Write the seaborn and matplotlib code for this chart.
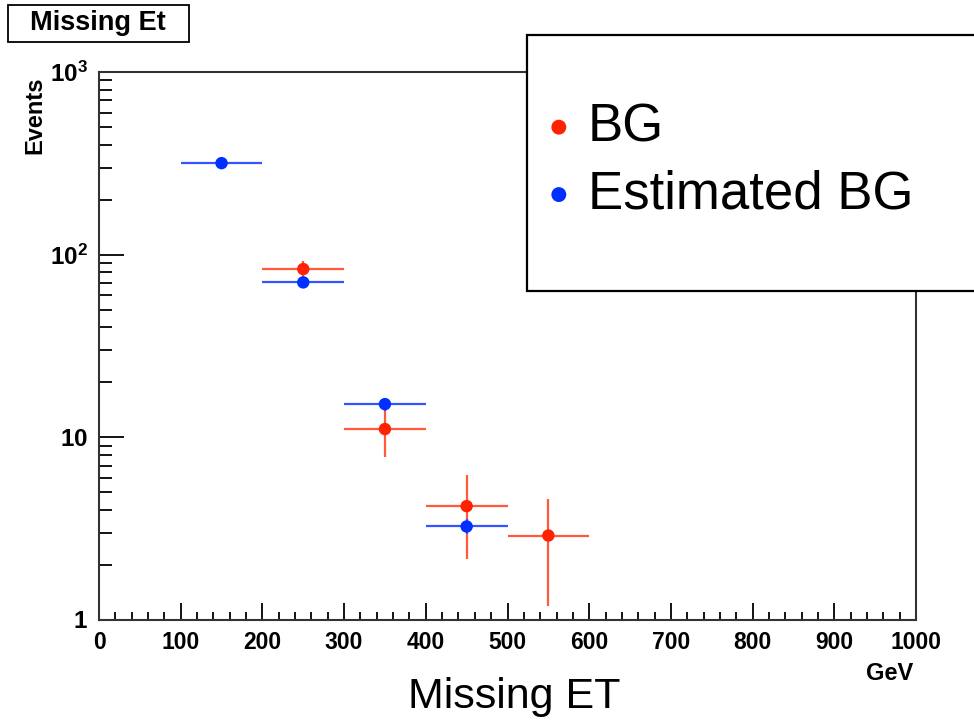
import numpy as np
import matplotlib
matplotlib.use("Agg")
import matplotlib.pyplot as plt
import seaborn as sns
from matplotlib.patches import Rectangle
from matplotlib.ticker import FixedLocator, LogLocator, MultipleLocator, NullFormatter

# clean white theme, Arial-like font
sns.set_theme(style="white")
plt.rcParams['font.family'] = ['Liberation Sans', 'DejaVu Sans']
plt.rcParams['mathtext.fontset'] = 'custom'
plt.rcParams['mathtext.bf'] = 'Liberation Sans:bold'
plt.rcParams['mathtext.rm'] = 'Liberation Sans'
plt.rcParams['text.color'] = 'black'
plt.rcParams['xtick.color'] = 'black'
plt.rcParams['ytick.color'] = 'black'

# data (bin centres in GeV, bin half width 50)
bin_centers_bg = [250, 350, 450, 550]
bg_events = [83.4, 11.1, 4.2, 2.9]
bg_errors = [9.1, 3.3, 2.05, 1.7]

bin_centers_est = [150, 250, 350, 450]
est_events = [317, 70.5, 15.2, 3.25]
est_errors = [4.0, 2.2, 1.3, 0.3]

bin_half_width = 50

red_pt, red_ln = '#ff2200', '#ff5a3c'
blue_pt, blue_ln = '#0030ff', '#3355ff'

fig = plt.figure(figsize=(9.74, 7.24), dpi=100)
ax = fig.add_axes([99/974, 1-620/724, 817/974, 548/724])

# error bars (bin width horizontally, stat error vertically)
ax.errorbar(bin_centers_bg, bg_events, xerr=bin_half_width, yerr=bg_errors,
            fmt='none', ecolor=red_ln, elinewidth=1.6, capsize=0, zorder=2)
ax.errorbar(bin_centers_est, est_events, xerr=bin_half_width, yerr=est_errors,
            fmt='none', ecolor=blue_ln, elinewidth=1.6, capsize=0, zorder=2)

sns.scatterplot(x=bin_centers_bg, y=bg_events, color=red_pt, s=80,
                edgecolor='none', label='BG', ax=ax, zorder=3, legend=False)
sns.scatterplot(x=bin_centers_est, y=est_events, color=blue_pt, s=80,
                edgecolor='none', label='Estimated BG', ax=ax, zorder=3, legend=False)

ax.set_yscale('log')
ax.set_xlim(0, 1000)
ax.set_ylim(1, 1000)

# ROOT-style inward ticks
ax.xaxis.set_major_locator(MultipleLocator(100))
ax.xaxis.set_minor_locator(MultipleLocator(20))
ax.yaxis.set_major_locator(FixedLocator([1, 10, 100, 1000]))
ax.yaxis.set_minor_locator(LogLocator(base=10, subs=np.arange(2, 10)))
ax.yaxis.set_minor_formatter(NullFormatter())
ax.set_yticklabels([r'$\mathbf{1}$', r'$\mathbf{10}$', r'$\mathbf{10^{2}}$', r'$\mathbf{10^{3}}$'])
ax.set_xticks(range(0, 1001, 100))
ax.set_xticklabels([str(v) for v in range(0, 1001, 100)], fontweight='bold')

ax.tick_params(axis='x', which='major', direction='in', length=12, width=1.3,
               labelsize=16.5, pad=8, bottom=True, top=False)
ax.tick_params(axis='x', which='minor', direction='in', length=6, width=1.3,
               bottom=True, top=False)
ax.tick_params(axis='y', which='major', direction='in', length=18, width=1.3,
               labelsize=17.5, pad=8, left=True, right=False)
ax.tick_params(axis='y', which='minor', direction='in', length=9, width=1.3,
               left=True, right=False)
for sp in ax.spines.values():
    sp.set_visible(True)
    sp.set_color('#333333')
    sp.set_linewidth(1.5)

ax.set_xlabel('')
ax.set_ylabel('')

# axis titles
fig.text(35/974, 1-115/724, 'Events', rotation=90, fontsize=17, fontweight='bold',
         ha='center', va='center')
fig.text(890/974, 1-673/724, 'GeV', fontsize=17, fontweight='bold',
         ha='center', va='center')
fig.text(514/974, 1-697/724, 'Missing ET', fontsize=31, ha='center', va='center')

# histogram title box
title_box = Rectangle((8/974, 1-42/724), 181/974, 37/724, transform=fig.transFigure,
                      facecolor='white', edgecolor='black', linewidth=1.3, zorder=5)
fig.patches.append(title_box)
fig.text(98/974, 1-23/724, 'Missing Et', fontsize=19.5, fontweight='bold',
         ha='center', va='center', zorder=6)

# legend box running off the right edge
box = Rectangle((527/974, 1-291/724), 460/974, 256/724, transform=fig.transFigure,
                facecolor='white', edgecolor='black', linewidth=1.6, zorder=5)
fig.patches.append(box)
handles, labels = ax.get_legend_handles_labels()
leg = fig.legend(handles, labels, loc='upper left', bbox_to_anchor=(543/974, 1-102/724),
                 frameon=False, fontsize=38, markerscale=1.2, handletextpad=0.25,
                 handlelength=0.6, labelspacing=0.33, borderpad=0, borderaxespad=0)
leg.set_zorder(6)

fig.savefig('out.png', dpi=100)
